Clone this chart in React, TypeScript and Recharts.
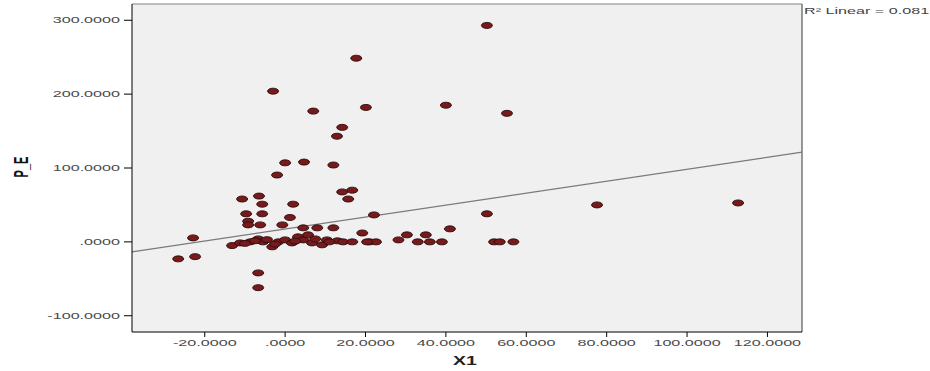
import React from "react";
import {
  ScatterChart,
  Scatter,
  XAxis,
  YAxis,
  CartesianGrid,
  ReferenceLine,
} from "recharts";

// X1 values
const x1Values = [
  17.7, -3.0, 7.0, 20.1, 40.0, 14.2, 12.9, 0, 4.7, 12,
  50.2, 55.2, 77.6, 112.7, 50.2, 52, 53.4, 56.8, 41, 28.2,
  30.3, 35, 33, 36, 39, 14.2, 16.7, 15.7, 22.1, 19.2,
  12, 21, 22.6, -2, -10.7, -6.5, -5.7, 2, -9.7, -5.7,
  1.2, -9.2, -9.2, -6.2, -0.7, -22.9, -26.6, -22.4, -6.7, -6.7,
  -13.2, -11.2, -8.7, -6.7, -5.5, -3.2, -1.7, 0, 1.7, 3.2,
  4.5, 5.7, 6.7, 8, 4.5, 9.2, 10.4, 13, 14.4, 16.7,
  20.4, -4.5, -2.5, 2.5, 7.5, 11, -7.5, -10,
];

// P_E values, same order
const peValues = [
  248.6, 204, 177, 182, 185, 155, 143, 107, 108, 104,
  293, 174, 50, 52.7, 38, 0, 0, 0, 17.6, 2.7,
  9.5, 9.5, 0, 0, 0, 67.6, 70, 58, 36.5, 12,
  19, 0, 0, 90.5, 58, 62, 51, 51, 38, 38,
  33, 28, 23, 23, 23, 5.4, -23, -20, -42, -62,
  -5, -1.4, 0, 4, 0, -6.7, 0, 2.7, -1.4, 6.8,
  2.7, 9.5, -1.4, 19, 19, -4, 2.7, 1.4, 0, 0,
  0, 3, -3, 1, 4, 0, 1.5, -2,
];

const xTicks = [-20, 0, 20, 40, 60, 80, 100, 120];
const yTicks = [-100, 0, 100, 200, 300];

// fit line (SPSS "R² Linear")
const fitIntercept = 17.3;
const fitSlope = 0.81;
const rSquared = "0.081";

const xDomain: [number, number] = [-38.1, 128.6];
const yDomain: [number, number] = [-122, 322];

const points = x1Values.map((x, i) => ({ x, y: peValues[i] }));

// the source picture is stretched sideways, so text is too
const STRETCH = 1.9;
const FONT = "Arial, 'Liberation Sans', sans-serif";

const spss = (v: number) => v.toFixed(4).replace(/^(-?)0\./, "$1.");

const YTick = (props: any) => {
  const { x, y, payload } = props;
  return (
    <text
      transform={`translate(${x},${y}) scale(${STRETCH},1)`}
      textAnchor="end"
      dy="0.35em"
      fontSize={8.5}
      fill="#4a4a4a"
      fontFamily={FONT}
    >
      {spss(payload.value)}
    </text>
  );
};

const XTick = (props: any) => {
  const { x, y, payload } = props;
  return (
    <text
      transform={`translate(${x},${y}) scale(${STRETCH},1)`}
      textAnchor="middle"
      dy="0.71em"
      fontSize={8.5}
      fill="#4a4a4a"
      fontFamily={FONT}
    >
      {spss(payload.value)}
    </text>
  );
};

const Dot = (props: any) => {
  const { cx, cy } = props;
  return (
    <ellipse
      cx={cx}
      cy={cy}
      rx={5.5}
      ry={3}
      fill="#761a1c"
      stroke="#2e0b0c"
      strokeWidth={0.9}
    />
  );
};

export default function App() {
  return (
    <div style={{ position: "absolute", left: 0, top: 0, background: "#fff" }}>
      <ScatterChart
        width={930}
        height={371}
        margin={{ top: 4, right: 128, bottom: 0, left: 0 }}
      >
        <CartesianGrid fill="#f0f0f0" horizontal={false} vertical={false} />
        <XAxis
          type="number"
          dataKey="x"
          domain={xDomain}
          ticks={xTicks}
          allowDataOverflow
          height={39}
          stroke="#000"
          tickSize={5}
          tickMargin={3}
          tick={<XTick />}
        />
        <YAxis
          type="number"
          dataKey="y"
          domain={yDomain}
          ticks={yTicks}
          allowDataOverflow
          width={132}
          stroke="#000"
          tickSize={8}
          tickMargin={4}
          tick={<YTick />}
        />
        <ReferenceLine y={yDomain[1]} stroke="#a8a8a8" strokeWidth={1.5} />
        <ReferenceLine x={xDomain[1]} stroke="#777" strokeWidth={1.5} />
        <ReferenceLine
          segment={[
            { x: xDomain[0], y: fitIntercept + fitSlope * xDomain[0] },
            { x: xDomain[1], y: fitIntercept + fitSlope * xDomain[1] },
          ]}
          stroke="#7a7a7a"
          strokeWidth={1.2}
        />
        <Scatter data={points} shape={<Dot />} isAnimationActive={false} />
        <text
          transform={`translate(465,365) scale(1.5,1)`}
          textAnchor="middle"
          fontSize={13}
          fontWeight="bold"
          fill="#222"
          fontFamily={FONT}
        >
          X1
        </text>
        <text
          transform={`translate(28,167) scale(${STRETCH},1) rotate(-90)`}
          textAnchor="middle"
          fontSize={11}
          fontWeight="bold"
          fill="#111"
          fontFamily={FONT}
        >
          P_E
        </text>
        <text
          transform={`translate(804,14) scale(${STRETCH},1)`}
          fontSize={8.5}
          fill="#444"
          fontFamily={FONT}
        >
          R² Linear = {rSquared}
        </text>
      </ScatterChart>
    </div>
  );
}
